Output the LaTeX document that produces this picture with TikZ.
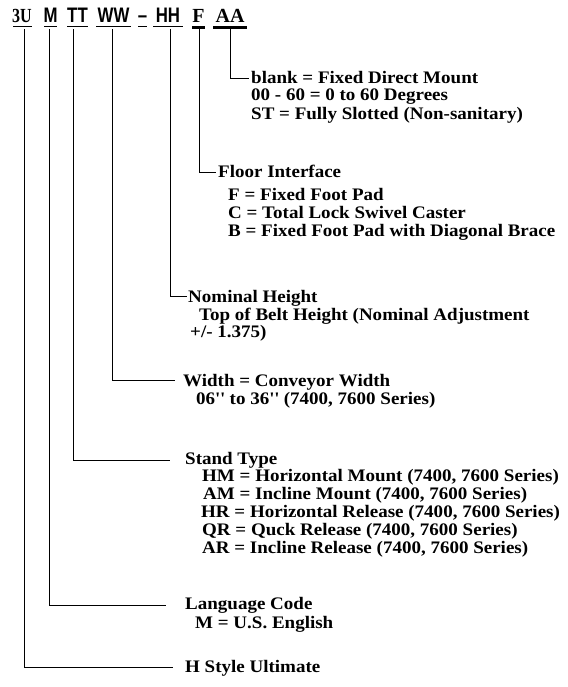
\documentclass[tikz,border=0pt]{standalone}
\usepackage{fontspec}
\setmainfont{Liberation Serif}[FakeStretch=1.08]
\newfontfamily\hsans{Liberation Sans}[FakeStretch=0.8]
\newfontfamily\hserif{Liberation Serif}[FakeStretch=0.8]
\newfontfamily\hserifw{Liberation Serif}
\begin{document}
\begin{tikzpicture}[x=1pt,y=-1pt,
  txt/.style={anchor=base west, inner sep=0pt, font=\fontsize{17.6}{19}\selectfont\bfseries},
  hdrserif/.style={anchor=base, inner sep=0pt, font=\fontsize{20}{22}\selectfont\hserifw\bfseries},
  hdrnarrow/.style={anchor=base, inner sep=0pt, font=\fontsize{20}{22}\selectfont\hserif\bfseries},
  hdrsans/.style={anchor=base, inner sep=0pt, font=\fontsize{21}{23}\selectfont\hsans\bfseries},
  conn/.style={line width=0.8pt},
  uline/.style={line width=0.8pt},
  thickline/.style={line width=2.6pt}]
\useasboundingbox (0,0) rectangle (567,687);
% header
\node[hdrnarrow] (h3u) at (22,23) {3U};
\node[hdrsans] (hm) at (50.5,23) {M};
\node[hdrsans] (htt) at (77.5,23) {TT};
\node[hdrsans] (hww) at (113.5,23) {WW};
\node[hdrsans] (hdash) at (142.5,23) {–};
\node[hdrsans] (hhh) at (168,23) {HH};
\node[hdrserif] (hf) at (198.5,23) {F};
\node[hdrserif] (haa) at (230,23) {AA};
\draw[uline] (13,26) -- (32,26);
\draw[uline] (44,26) -- (57,26);
\draw[uline] (67,26) -- (88,26);
\draw[uline] (96,26) -- (131,26);
\draw[uline] (138,26) -- (147,26);
\draw[uline] (153,26) -- (183,26);
\draw[thickline] (192,27.5) -- (205,27.5);
\draw[thickline] (213,27.5) -- (247,27.5);
% connector tops
\coordinate (t3u) at (24,29.5);
\coordinate (tm) at (49,29.5);
\coordinate (ttt) at (73,29.5);
\coordinate (tww) at (112,29.5);
\coordinate (thh) at (170,29.5);
\coordinate (tf) at (199,29.5);
\coordinate (taa) at (230,29.5);
% connector ends
\coordinate (eaa) at (249,78);
\coordinate (ef) at (216,172);
\coordinate (ehh) at (187,296);
\coordinate (eww) at (175,380);
\coordinate (ett) at (170,460);
\coordinate (em) at (166,605);
\coordinate (e3u) at (173,667);
\draw[conn] (taa) |- (eaa);
\draw[conn] (tf) |- (ef);
\draw[conn] (thh) |- (ehh);
\draw[conn] (tww) |- (eww);
\draw[conn] (ttt) |- (ett);
\draw[conn] (tm) |- (em);
\draw[conn] (t3u) |- (e3u);
% AA block
\node[txt] (aa1) at (251,84) {blank = Fixed Direct Mount};
\node[txt] (aa2) at (251,101) {00 - 60 = 0 to 60 Degrees};
\node[txt] (aa3) at (251,120) {ST = Fully Slotted (Non-sanitary)};
% F block
\node[txt] (f0) at (218,178) {Floor Interface};
\node[txt] (f1) at (228,200) {F = Fixed Foot Pad};
\node[txt] (f2) at (228,218) {C = Total Lock Swivel Caster};
\node[txt] (f3) at (228,236) {B = Fixed Foot Pad with Diagonal Brace};
% HH block
\node[txt] (hh0) at (188,302) {Nominal Height};
\node[txt] (hh1) at (199,320) {Top of Belt Height (Nominal Adjustment};
\node[txt] (hh2) at (190,337) {+/- 1.375)};
% WW block
\node[txt] (ww0) at (183,386) {Width = Conveyor Width};
\node[txt] (ww1) at (196,404) {06\textquotesingle\textquotesingle{} to 36\textquotesingle\textquotesingle{} (7400, 7600 Series)};
% TT block
\node[txt] (tt0) at (185,464) {Stand Type};
\node[txt] (tt1) at (202,481) {HM = Horizontal Mount (7400, 7600 Series)};
\node[txt] (tt2) at (203,499) {AM = Incline Mount (7400, 7600 Series)};
\node[txt] (tt3) at (201,517) {HR = Horizontal Release (7400, 7600 Series)};
\node[txt] (tt4) at (202,535) {QR = Quck Release (7400, 7600 Series)};
\node[txt] (tt5) at (202,553) {AR = Incline Release (7400, 7600 Series)};
% M block
\node[txt] (m0) at (185,609) {Language Code};
\node[txt] (m1) at (195,628) {M = U.S. English};
% 3U block
\node[txt] (u0) at (185,672) {H Style Ultimate};
\end{tikzpicture}
\end{document}
